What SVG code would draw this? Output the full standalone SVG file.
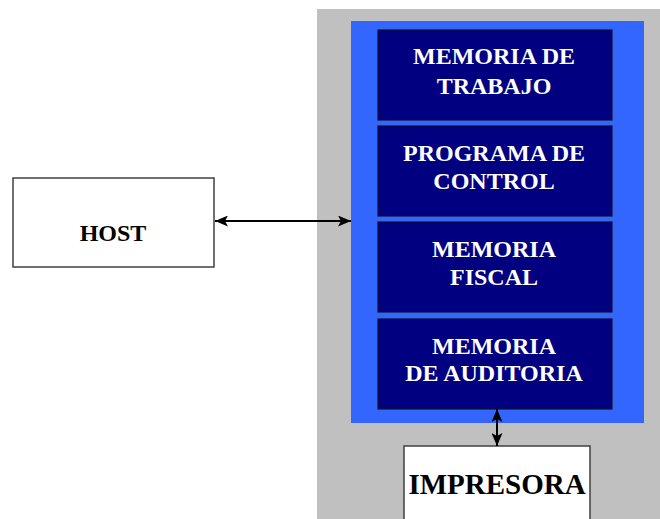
<svg xmlns="http://www.w3.org/2000/svg" width="660" height="519" viewBox="0 0 660 519">
<style>
.mem{fill:#000080;stroke:#111122;stroke-width:1.2}
.wt{font-family:"Liberation Serif","Times New Roman",serif;font-weight:bold;font-size:24px;fill:#ffffff;text-anchor:middle}
.bt{font-family:"Liberation Serif","Times New Roman",serif;font-weight:bold;fill:#000000;text-anchor:middle}
.wb{fill:#ffffff;stroke:#404040;stroke-width:1.5}
.conn{stroke:#000000;stroke-width:2;fill:none}
</style>
<defs>
<marker id="ah" viewBox="0 0 13 11" refX="13" refY="5.5" markerWidth="13" markerHeight="11" markerUnits="userSpaceOnUse" orient="auto-start-reverse">
<path d="M0,0 L13,5.5 L0,11 L3,5.5 Z" fill="#000000"/>
</marker>
</defs>
<rect width="660" height="519" fill="#ffffff"/>
<g id="panel">
<rect x="317" y="9" width="343" height="510" fill="#c0c0c0"/>
<rect x="351" y="21" width="293" height="402" fill="#3366ff"/>
</g>
<g id="memoria-trabajo">
<rect class="mem" x="378" y="30" width="234" height="90"/>
<text class="wt" x="494" y="64">MEMORIA DE</text>
<text class="wt" x="494" y="94">TRABAJO</text>
</g>
<g id="programa-control">
<rect class="mem" x="378" y="126" width="234" height="90"/>
<text class="wt" x="494" y="161">PROGRAMA DE</text>
<text class="wt" x="494" y="189">CONTROL</text>
</g>
<g id="memoria-fiscal">
<rect class="mem" x="378" y="222" width="234" height="90"/>
<text class="wt" x="494" y="257">MEMORIA</text>
<text class="wt" x="494" y="285">FISCAL</text>
</g>
<g id="memoria-auditoria">
<rect class="mem" x="378" y="319" width="234" height="90"/>
<text class="wt" x="494" y="354">MEMORIA</text>
<text class="wt" x="494" y="381">DE AUDITORIA</text>
</g>
<g id="host">
<rect class="wb" x="13" y="178" width="201" height="89"/>
<text class="bt" x="113" y="241" font-size="24">HOST</text>
</g>
<g id="impresora">
<rect class="wb" x="404" y="446" width="186" height="80"/>
<text class="bt" x="497" y="494" font-size="29">IMPRESORA</text>
</g>
<g id="connectors">
<line class="conn" x1="215" y1="221" x2="351" y2="221" marker-start="url(#ah)" marker-end="url(#ah)"/>
<line class="conn" x1="497" y1="409" x2="497" y2="446" marker-start="url(#ah)" marker-end="url(#ah)"/>
</g>
</svg>
